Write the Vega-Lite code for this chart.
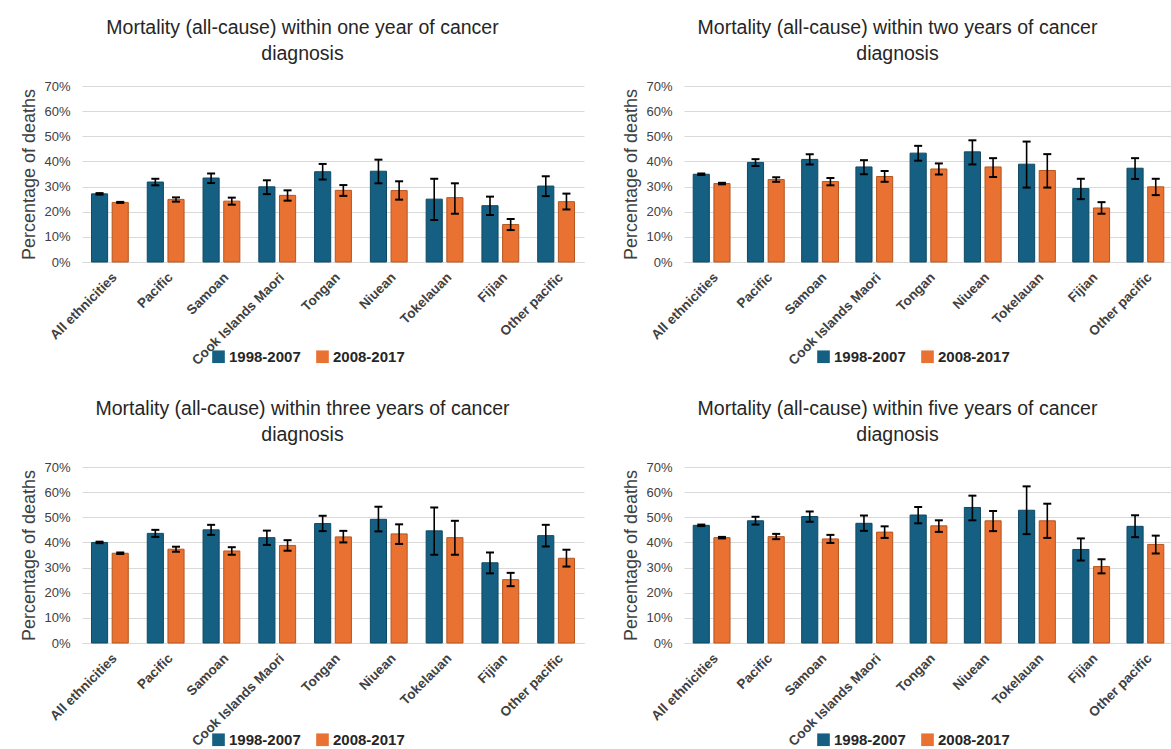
{
  "$schema": "https://vega.github.io/schema/vega-lite/v6.json",
  "padding": {"left": 20, "top": 17, "right": 0, "bottom": 0},
  "bounds": "flush",
  "spacing": 381,
  "resolve": {"scale": {"color": "independent", "stroke": "independent"}, "legend": {"color": "independent"}},
  "datasets": {
    "mortality": [
      {"panel": "one", "ethnicity": "All ethnicities", "period": "1998-2007", "value": 27.1, "lower": 26.8, "upper": 27.4},
      {"panel": "one", "ethnicity": "All ethnicities", "period": "2008-2017", "value": 23.7, "lower": 23.5, "upper": 23.9},
      {"panel": "one", "ethnicity": "Pacific", "period": "1998-2007", "value": 31.8, "lower": 30.5, "upper": 33.1},
      {"panel": "one", "ethnicity": "Pacific", "period": "2008-2017", "value": 24.9, "lower": 24.0, "upper": 25.7},
      {"panel": "one", "ethnicity": "Samoan", "period": "1998-2007", "value": 33.4, "lower": 31.4, "upper": 35.2},
      {"panel": "one", "ethnicity": "Samoan", "period": "2008-2017", "value": 24.2, "lower": 22.8, "upper": 25.6},
      {"panel": "one", "ethnicity": "Cook Islands Maori", "period": "1998-2007", "value": 29.9, "lower": 27.0, "upper": 32.5},
      {"panel": "one", "ethnicity": "Cook Islands Maori", "period": "2008-2017", "value": 26.5, "lower": 24.4, "upper": 28.5},
      {"panel": "one", "ethnicity": "Tongan", "period": "1998-2007", "value": 35.9, "lower": 32.8, "upper": 39.0},
      {"panel": "one", "ethnicity": "Tongan", "period": "2008-2017", "value": 28.5, "lower": 26.3, "upper": 30.6},
      {"panel": "one", "ethnicity": "Niuean", "period": "1998-2007", "value": 36.1, "lower": 31.3, "upper": 40.7},
      {"panel": "one", "ethnicity": "Niuean", "period": "2008-2017", "value": 28.4, "lower": 24.8, "upper": 32.1},
      {"panel": "one", "ethnicity": "Tokelauan", "period": "1998-2007", "value": 25.0, "lower": 16.7, "upper": 33.1},
      {"panel": "one", "ethnicity": "Tokelauan", "period": "2008-2017", "value": 25.6, "lower": 19.2, "upper": 31.3},
      {"panel": "one", "ethnicity": "Fijian", "period": "1998-2007", "value": 22.4, "lower": 18.7, "upper": 26.0},
      {"panel": "one", "ethnicity": "Fijian", "period": "2008-2017", "value": 14.9, "lower": 12.7, "upper": 17.1},
      {"panel": "one", "ethnicity": "Other pacific", "period": "1998-2007", "value": 30.2, "lower": 26.2, "upper": 34.1},
      {"panel": "one", "ethnicity": "Other pacific", "period": "2008-2017", "value": 24.0, "lower": 20.9, "upper": 27.2},

      {"panel": "two", "ethnicity": "All ethnicities", "period": "1998-2007", "value": 34.9, "lower": 34.6, "upper": 35.2},
      {"panel": "two", "ethnicity": "All ethnicities", "period": "2008-2017", "value": 31.2, "lower": 30.9, "upper": 31.5},
      {"panel": "two", "ethnicity": "Pacific", "period": "1998-2007", "value": 39.6, "lower": 38.2, "upper": 40.9},
      {"panel": "two", "ethnicity": "Pacific", "period": "2008-2017", "value": 32.8, "lower": 31.9, "upper": 33.7},
      {"panel": "two", "ethnicity": "Samoan", "period": "1998-2007", "value": 40.8, "lower": 38.8, "upper": 42.9},
      {"panel": "two", "ethnicity": "Samoan", "period": "2008-2017", "value": 32.0, "lower": 30.5, "upper": 33.4},
      {"panel": "two", "ethnicity": "Cook Islands Maori", "period": "1998-2007", "value": 37.8, "lower": 34.9, "upper": 40.5},
      {"panel": "two", "ethnicity": "Cook Islands Maori", "period": "2008-2017", "value": 34.0, "lower": 31.9, "upper": 36.2},
      {"panel": "two", "ethnicity": "Tongan", "period": "1998-2007", "value": 43.3, "lower": 40.3, "upper": 46.2},
      {"panel": "two", "ethnicity": "Tongan", "period": "2008-2017", "value": 37.0, "lower": 34.8, "upper": 39.2},
      {"panel": "two", "ethnicity": "Niuean", "period": "1998-2007", "value": 43.8, "lower": 38.8, "upper": 48.4},
      {"panel": "two", "ethnicity": "Niuean", "period": "2008-2017", "value": 37.8, "lower": 33.8, "upper": 41.3},
      {"panel": "two", "ethnicity": "Tokelauan", "period": "1998-2007", "value": 38.9, "lower": 29.6, "upper": 47.9},
      {"panel": "two", "ethnicity": "Tokelauan", "period": "2008-2017", "value": 36.4, "lower": 29.6, "upper": 42.9},
      {"panel": "two", "ethnicity": "Fijian", "period": "1998-2007", "value": 29.2, "lower": 25.0, "upper": 33.1},
      {"panel": "two", "ethnicity": "Fijian", "period": "2008-2017", "value": 21.5, "lower": 19.2, "upper": 23.8},
      {"panel": "two", "ethnicity": "Other pacific", "period": "1998-2007", "value": 37.3, "lower": 33.0, "upper": 41.3},
      {"panel": "two", "ethnicity": "Other pacific", "period": "2008-2017", "value": 29.9, "lower": 26.6, "upper": 33.1},

      {"panel": "three", "ethnicity": "All ethnicities", "period": "1998-2007", "value": 40.0, "lower": 39.7, "upper": 40.3},
      {"panel": "three", "ethnicity": "All ethnicities", "period": "2008-2017", "value": 35.7, "lower": 35.4, "upper": 36.0},
      {"panel": "three", "ethnicity": "Pacific", "period": "1998-2007", "value": 43.6, "lower": 42.2, "upper": 45.0},
      {"panel": "three", "ethnicity": "Pacific", "period": "2008-2017", "value": 37.3, "lower": 36.3, "upper": 38.3},
      {"panel": "three", "ethnicity": "Samoan", "period": "1998-2007", "value": 45.0, "lower": 43.0, "upper": 47.0},
      {"panel": "three", "ethnicity": "Samoan", "period": "2008-2017", "value": 36.6, "lower": 35.1, "upper": 38.1},
      {"panel": "three", "ethnicity": "Cook Islands Maori", "period": "1998-2007", "value": 41.9, "lower": 39.0, "upper": 44.7},
      {"panel": "three", "ethnicity": "Cook Islands Maori", "period": "2008-2017", "value": 38.8, "lower": 36.7, "upper": 40.9},
      {"panel": "three", "ethnicity": "Tongan", "period": "1998-2007", "value": 47.5, "lower": 44.5, "upper": 50.6},
      {"panel": "three", "ethnicity": "Tongan", "period": "2008-2017", "value": 42.2, "lower": 40.0, "upper": 44.6},
      {"panel": "three", "ethnicity": "Niuean", "period": "1998-2007", "value": 49.2, "lower": 44.4, "upper": 54.2},
      {"panel": "three", "ethnicity": "Niuean", "period": "2008-2017", "value": 43.4, "lower": 39.4, "upper": 47.2},
      {"panel": "three", "ethnicity": "Tokelauan", "period": "1998-2007", "value": 44.6, "lower": 35.1, "upper": 53.9},
      {"panel": "three", "ethnicity": "Tokelauan", "period": "2008-2017", "value": 41.9, "lower": 35.1, "upper": 48.6},
      {"panel": "three", "ethnicity": "Fijian", "period": "1998-2007", "value": 31.9, "lower": 27.7, "upper": 36.0},
      {"panel": "three", "ethnicity": "Fijian", "period": "2008-2017", "value": 25.2, "lower": 22.6, "upper": 27.9},
      {"panel": "three", "ethnicity": "Other pacific", "period": "1998-2007", "value": 42.7, "lower": 38.4, "upper": 47.0},
      {"panel": "three", "ethnicity": "Other pacific", "period": "2008-2017", "value": 33.7, "lower": 30.4, "upper": 37.1},

      {"panel": "five", "ethnicity": "All ethnicities", "period": "1998-2007", "value": 46.8, "lower": 46.5, "upper": 47.1},
      {"panel": "five", "ethnicity": "All ethnicities", "period": "2008-2017", "value": 41.9, "lower": 41.6, "upper": 42.2},
      {"panel": "five", "ethnicity": "Pacific", "period": "1998-2007", "value": 48.6, "lower": 47.1, "upper": 50.2},
      {"panel": "five", "ethnicity": "Pacific", "period": "2008-2017", "value": 42.3, "lower": 41.3, "upper": 43.4},
      {"panel": "five", "ethnicity": "Samoan", "period": "1998-2007", "value": 50.3, "lower": 48.2, "upper": 52.3},
      {"panel": "five", "ethnicity": "Samoan", "period": "2008-2017", "value": 41.4, "lower": 39.8, "upper": 43.0},
      {"panel": "five", "ethnicity": "Cook Islands Maori", "period": "1998-2007", "value": 47.6, "lower": 44.6, "upper": 50.7},
      {"panel": "five", "ethnicity": "Cook Islands Maori", "period": "2008-2017", "value": 44.1, "lower": 41.8, "upper": 46.4},
      {"panel": "five", "ethnicity": "Tongan", "period": "1998-2007", "value": 50.9, "lower": 47.6, "upper": 54.1},
      {"panel": "five", "ethnicity": "Tongan", "period": "2008-2017", "value": 46.6, "lower": 44.2, "upper": 48.8},
      {"panel": "five", "ethnicity": "Niuean", "period": "1998-2007", "value": 53.9, "lower": 48.8, "upper": 58.6},
      {"panel": "five", "ethnicity": "Niuean", "period": "2008-2017", "value": 48.6, "lower": 44.5, "upper": 52.5},
      {"panel": "five", "ethnicity": "Tokelauan", "period": "1998-2007", "value": 52.8, "lower": 43.3, "upper": 62.3},
      {"panel": "five", "ethnicity": "Tokelauan", "period": "2008-2017", "value": 48.6, "lower": 41.8, "upper": 55.4},
      {"panel": "five", "ethnicity": "Fijian", "period": "1998-2007", "value": 37.2, "lower": 32.8, "upper": 41.6},
      {"panel": "five", "ethnicity": "Fijian", "period": "2008-2017", "value": 30.4, "lower": 27.7, "upper": 33.3},
      {"panel": "five", "ethnicity": "Other pacific", "period": "1998-2007", "value": 46.4, "lower": 42.1, "upper": 50.8},
      {"panel": "five", "ethnicity": "Other pacific", "period": "2008-2017", "value": 39.2, "lower": 35.6, "upper": 42.7}
    ]
  },
  "vconcat": [
    {
      "hconcat": [
        {
          "width": 502, "height": 176,
          "title": {"text": ["Mortality (all-cause) within one year of cancer", "diagnosis"]},
          "data": {"name": "mortality"},
          "transform": [{"filter": "datum.panel === 'one'"}],
          "encoding": {
            "x": {"field": "ethnicity", "type": "nominal", "title": null, "sort": ["All ethnicities", "Pacific", "Samoan", "Cook Islands Maori", "Tongan", "Niuean", "Tokelauan", "Fijian", "Other pacific"], "scale": {"paddingInner": 0.34, "paddingOuter": 0.17}},
            "xOffset": {"field": "period", "type": "nominal", "scale": {"paddingInner": 0.22}}
          },
          "layer": [
            {"mark": {"type": "bar", "strokeWidth": 1}, "encoding": {
              "y": {"field": "value", "type": "quantitative", "title": "Percentage of deaths", "scale": {"domain": [0, 70], "nice": false}, "axis": {"values": [0, 10, 20, 30, 40, 50, 60, 70], "labelExpr": "datum.value + '%'"}},
              "color": {"field": "period", "type": "nominal", "scale": {"range": ["#156082", "#E97132"]}, "legend": {"legendX": 129, "legendY": 263}},
              "stroke": {"field": "period", "type": "nominal", "scale": {"range": ["#0f4863", "#b5561f"]}, "legend": null}}},
            {"mark": {"type": "rule", "color": "#000000", "strokeWidth": 1.6}, "encoding": {"y": {"field": "lower", "type": "quantitative", "title": "Percentage of deaths", "scale": {"domain": [0, 70], "nice": false}, "axis": {"values": [0, 10, 20, 30, 40, 50, 60, 70], "labelExpr": "datum.value + '%'"}}, "y2": {"field": "upper"}}},
            {"mark": {"type": "tick", "color": "#000000", "size": 8, "thickness": 2, "opacity": 1}, "encoding": {"y": {"field": "lower", "type": "quantitative", "title": "Percentage of deaths", "scale": {"domain": [0, 70], "nice": false}, "axis": {"values": [0, 10, 20, 30, 40, 50, 60, 70], "labelExpr": "datum.value + '%'"}}}},
            {"mark": {"type": "tick", "color": "#000000", "size": 8, "thickness": 2, "opacity": 1}, "encoding": {"y": {"field": "upper", "type": "quantitative", "title": "Percentage of deaths", "scale": {"domain": [0, 70], "nice": false}, "axis": {"values": [0, 10, 20, 30, 40, 50, 60, 70], "labelExpr": "datum.value + '%'"}}}}
          ]
        },
        {
          "width": 488, "height": 176,
          "title": {"text": ["Mortality (all-cause) within two years of cancer", "diagnosis"]},
          "data": {"name": "mortality"},
          "transform": [{"filter": "datum.panel === 'two'"}],
          "encoding": {
            "x": {"field": "ethnicity", "type": "nominal", "title": null, "sort": ["All ethnicities", "Pacific", "Samoan", "Cook Islands Maori", "Tongan", "Niuean", "Tokelauan", "Fijian", "Other pacific"], "scale": {"paddingInner": 0.34, "paddingOuter": 0.17}},
            "xOffset": {"field": "period", "type": "nominal", "scale": {"paddingInner": 0.22}}
          },
          "layer": [
            {"mark": {"type": "bar", "strokeWidth": 1}, "encoding": {
              "y": {"field": "value", "type": "quantitative", "title": "Percentage of deaths", "scale": {"domain": [0, 70], "nice": false}, "axis": {"values": [0, 10, 20, 30, 40, 50, 60, 70], "labelExpr": "datum.value + '%'"}},
              "color": {"field": "period", "type": "nominal", "scale": {"range": ["#156082", "#E97132"]}, "legend": {"legendX": 132, "legendY": 263}},
              "stroke": {"field": "period", "type": "nominal", "scale": {"range": ["#0f4863", "#b5561f"]}, "legend": null}}},
            {"mark": {"type": "rule", "color": "#000000", "strokeWidth": 1.6}, "encoding": {"y": {"field": "lower", "type": "quantitative", "title": "Percentage of deaths", "scale": {"domain": [0, 70], "nice": false}, "axis": {"values": [0, 10, 20, 30, 40, 50, 60, 70], "labelExpr": "datum.value + '%'"}}, "y2": {"field": "upper"}}},
            {"mark": {"type": "tick", "color": "#000000", "size": 8, "thickness": 2, "opacity": 1}, "encoding": {"y": {"field": "lower", "type": "quantitative", "title": "Percentage of deaths", "scale": {"domain": [0, 70], "nice": false}, "axis": {"values": [0, 10, 20, 30, 40, 50, 60, 70], "labelExpr": "datum.value + '%'"}}}},
            {"mark": {"type": "tick", "color": "#000000", "size": 8, "thickness": 2, "opacity": 1}, "encoding": {"y": {"field": "upper", "type": "quantitative", "title": "Percentage of deaths", "scale": {"domain": [0, 70], "nice": false}, "axis": {"values": [0, 10, 20, 30, 40, 50, 60, 70], "labelExpr": "datum.value + '%'"}}}}
          ]
        }
      ],
      "spacing": 100,
      "bounds": "flush",
      "resolve": {"scale": {"color": "independent", "stroke": "independent"}, "legend": {"color": "independent"}}
    },
    {
      "hconcat": [
        {
          "width": 502, "height": 176,
          "title": {"text": ["Mortality (all-cause) within three years of cancer", "diagnosis"]},
          "data": {"name": "mortality"},
          "transform": [{"filter": "datum.panel === 'three'"}],
          "encoding": {
            "x": {"field": "ethnicity", "type": "nominal", "title": null, "sort": ["All ethnicities", "Pacific", "Samoan", "Cook Islands Maori", "Tongan", "Niuean", "Tokelauan", "Fijian", "Other pacific"], "scale": {"paddingInner": 0.34, "paddingOuter": 0.17}},
            "xOffset": {"field": "period", "type": "nominal", "scale": {"paddingInner": 0.22}}
          },
          "layer": [
            {"mark": {"type": "bar", "strokeWidth": 1}, "encoding": {
              "y": {"field": "value", "type": "quantitative", "title": "Percentage of deaths", "scale": {"domain": [0, 70], "nice": false}, "axis": {"values": [0, 10, 20, 30, 40, 50, 60, 70], "labelExpr": "datum.value + '%'"}},
              "color": {"field": "period", "type": "nominal", "scale": {"range": ["#156082", "#E97132"]}, "legend": {"legendX": 129, "legendY": 265}},
              "stroke": {"field": "period", "type": "nominal", "scale": {"range": ["#0f4863", "#b5561f"]}, "legend": null}}},
            {"mark": {"type": "rule", "color": "#000000", "strokeWidth": 1.6}, "encoding": {"y": {"field": "lower", "type": "quantitative", "title": "Percentage of deaths", "scale": {"domain": [0, 70], "nice": false}, "axis": {"values": [0, 10, 20, 30, 40, 50, 60, 70], "labelExpr": "datum.value + '%'"}}, "y2": {"field": "upper"}}},
            {"mark": {"type": "tick", "color": "#000000", "size": 8, "thickness": 2, "opacity": 1}, "encoding": {"y": {"field": "lower", "type": "quantitative", "title": "Percentage of deaths", "scale": {"domain": [0, 70], "nice": false}, "axis": {"values": [0, 10, 20, 30, 40, 50, 60, 70], "labelExpr": "datum.value + '%'"}}}},
            {"mark": {"type": "tick", "color": "#000000", "size": 8, "thickness": 2, "opacity": 1}, "encoding": {"y": {"field": "upper", "type": "quantitative", "title": "Percentage of deaths", "scale": {"domain": [0, 70], "nice": false}, "axis": {"values": [0, 10, 20, 30, 40, 50, 60, 70], "labelExpr": "datum.value + '%'"}}}}
          ]
        },
        {
          "width": 488, "height": 176,
          "title": {"text": ["Mortality (all-cause) within five years of cancer", "diagnosis"]},
          "data": {"name": "mortality"},
          "transform": [{"filter": "datum.panel === 'five'"}],
          "encoding": {
            "x": {"field": "ethnicity", "type": "nominal", "title": null, "sort": ["All ethnicities", "Pacific", "Samoan", "Cook Islands Maori", "Tongan", "Niuean", "Tokelauan", "Fijian", "Other pacific"], "scale": {"paddingInner": 0.34, "paddingOuter": 0.17}},
            "xOffset": {"field": "period", "type": "nominal", "scale": {"paddingInner": 0.22}}
          },
          "layer": [
            {"mark": {"type": "bar", "strokeWidth": 1}, "encoding": {
              "y": {"field": "value", "type": "quantitative", "title": "Percentage of deaths", "scale": {"domain": [0, 70], "nice": false}, "axis": {"values": [0, 10, 20, 30, 40, 50, 60, 70], "labelExpr": "datum.value + '%'"}},
              "color": {"field": "period", "type": "nominal", "scale": {"range": ["#156082", "#E97132"]}, "legend": {"legendX": 132, "legendY": 265}},
              "stroke": {"field": "period", "type": "nominal", "scale": {"range": ["#0f4863", "#b5561f"]}, "legend": null}}},
            {"mark": {"type": "rule", "color": "#000000", "strokeWidth": 1.6}, "encoding": {"y": {"field": "lower", "type": "quantitative", "title": "Percentage of deaths", "scale": {"domain": [0, 70], "nice": false}, "axis": {"values": [0, 10, 20, 30, 40, 50, 60, 70], "labelExpr": "datum.value + '%'"}}, "y2": {"field": "upper"}}},
            {"mark": {"type": "tick", "color": "#000000", "size": 8, "thickness": 2, "opacity": 1}, "encoding": {"y": {"field": "lower", "type": "quantitative", "title": "Percentage of deaths", "scale": {"domain": [0, 70], "nice": false}, "axis": {"values": [0, 10, 20, 30, 40, 50, 60, 70], "labelExpr": "datum.value + '%'"}}}},
            {"mark": {"type": "tick", "color": "#000000", "size": 8, "thickness": 2, "opacity": 1}, "encoding": {"y": {"field": "upper", "type": "quantitative", "title": "Percentage of deaths", "scale": {"domain": [0, 70], "nice": false}, "axis": {"values": [0, 10, 20, 30, 40, 50, 60, 70], "labelExpr": "datum.value + '%'"}}}}
          ]
        }
      ],
      "spacing": 100,
      "bounds": "flush",
      "resolve": {"scale": {"color": "independent", "stroke": "independent"}, "legend": {"color": "independent"}}
    }
  ],
  "config": {
    "font": "Liberation Sans",
    "background": "#ffffff",
    "view": {"stroke": null},
    "title": {"fontSize": 19.5, "fontWeight": "normal", "color": "#262626", "anchor": "middle", "frame": "bounds", "lineHeight": 26, "offset": 16},
    "axisY": {"grid": true, "gridColor": "#d9d9d9", "domain": false, "ticks": false, "labelColor": "#404040", "labelFontSize": 13, "labelPadding": 12, "titleFontSize": 18, "titleFontWeight": "normal", "titleColor": "#404040", "titlePadding": 5},
    "axisX": {"labelAngle": -45, "labelFontWeight": "bold", "labelFontSize": 13.5, "labelColor": "#404040", "ticks": false, "domainColor": "#d9d9d9", "labelPadding": 8, "grid": false},
    "legend": {"orient": "none", "direction": "horizontal", "title": null, "symbolType": "square", "symbolSize": 160, "symbolStrokeWidth": 0, "labelFontSize": 15, "labelFontWeight": "bold", "labelColor": "#262626", "columnPadding": 14, "labelOffset": 3}
  }
}
